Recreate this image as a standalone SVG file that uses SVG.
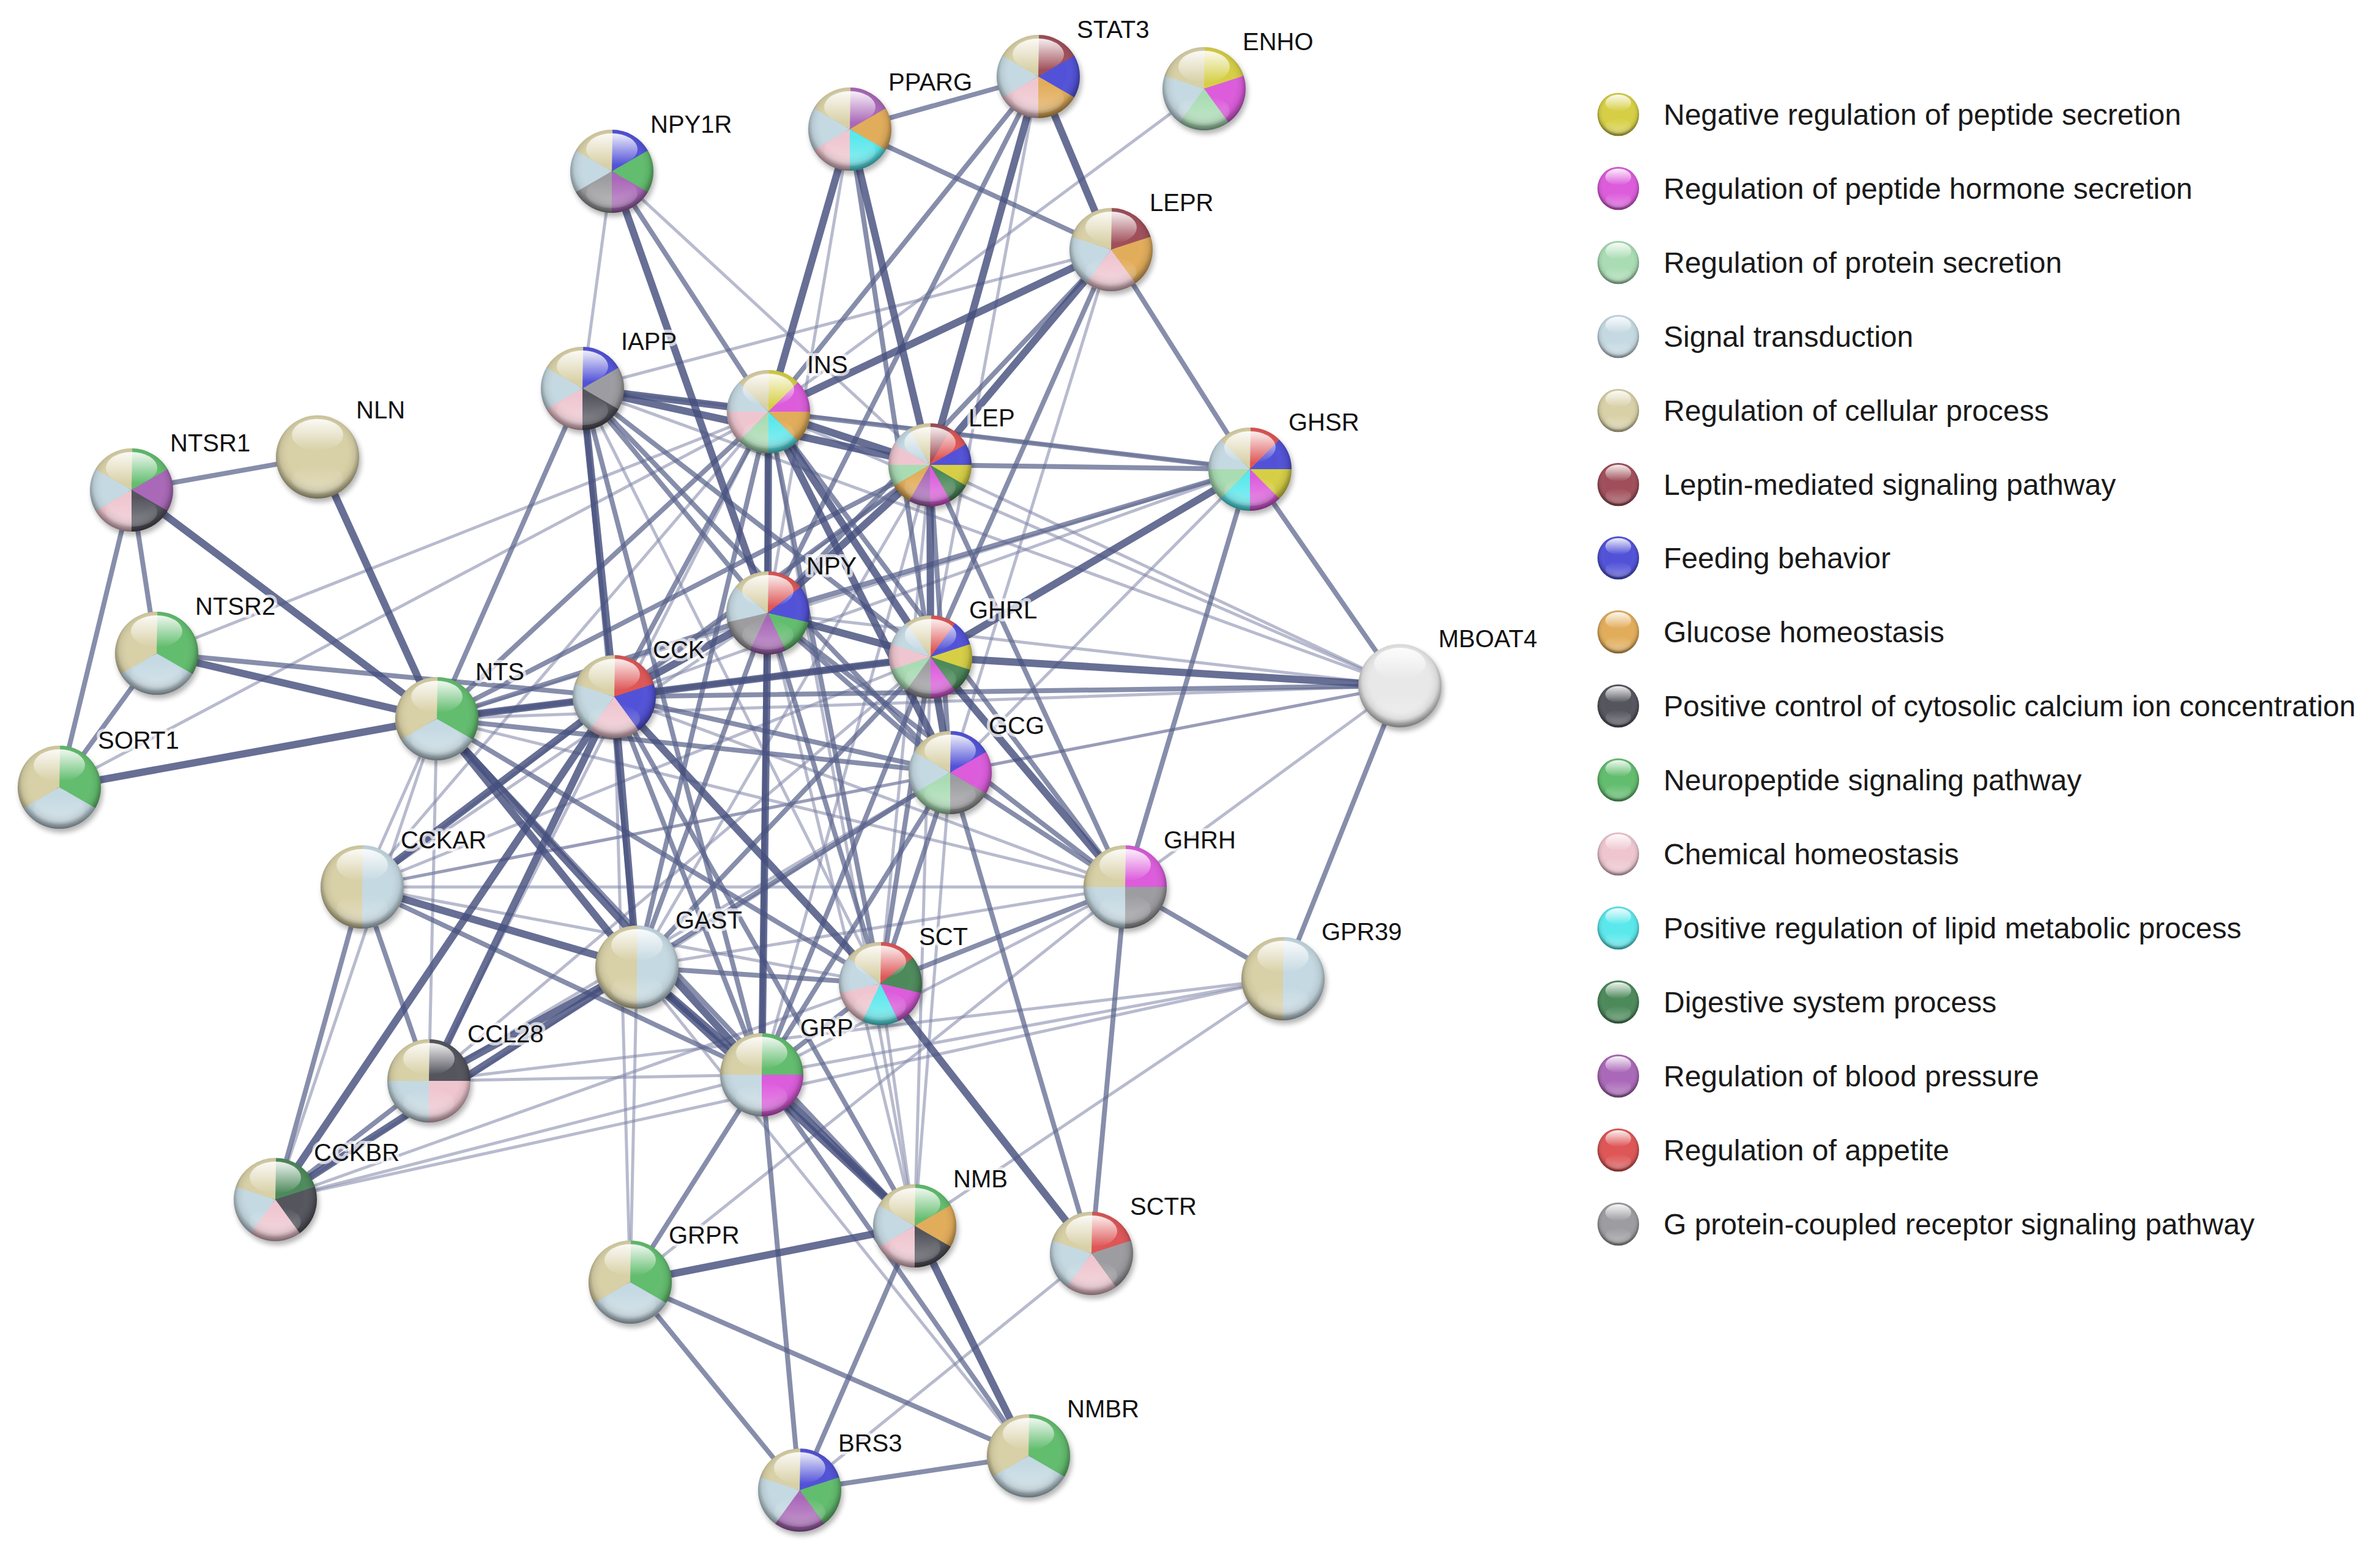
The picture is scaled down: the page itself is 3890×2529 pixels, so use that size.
<svg xmlns="http://www.w3.org/2000/svg" xmlns:xlink="http://www.w3.org/1999/xlink" width="3890" height="2529" viewBox="0 0 3890 2529">
<style>
.l{stroke:#7d84a6;stroke-opacity:.55;stroke-width:5}
.m{stroke:#59628b;stroke-opacity:.72;stroke-width:8}
.t{stroke:#454f7e;stroke-opacity:.82;stroke-width:12}
.s{fill:none;stroke-width:68}
.s2{stroke-dasharray:107.3 300}.s3{stroke-dasharray:71.7 300}.s4{stroke-dasharray:53.9 300}.s5{stroke-dasharray:43.2 300}.s6{stroke-dasharray:36.1 300}.s7{stroke-dasharray:31 300}.s8{stroke-dasharray:27.2 300}.s10{stroke-dasharray:21.9 300}.s12{stroke-dasharray:18.3 300}
.Y{stroke:#d6cf45}.M{stroke:#dc5cdc}.LG{stroke:#a9dcb3}.LB{stroke:#c5d9e2}.T{stroke:#d8d0a6}.DR{stroke:#a04f5a}.B{stroke:#5252d8}.O{stroke:#e2ad5a}.K{stroke:#55555e}.G{stroke:#62bd6e}.P{stroke:#efc6d0}.C{stroke:#5ae8ec}.DG{stroke:#4d8a5b}.PU{stroke:#aa68b8}.R{stroke:#de5656}.GR{stroke:#9d9da1}
.lbl{font-family:"Liberation Sans",Arial,sans-serif;font-size:40px;fill:#111;stroke:#fff;stroke-width:10;stroke-opacity:.7;stroke-linejoin:round;paint-order:stroke}
.leg{font-family:"Liberation Sans",Arial,sans-serif;font-size:48px;fill:#1a1a1a}
</style>
<defs>
<filter id="blur" x="-30%" y="-30%" width="160%" height="160%"><feGaussianBlur stdDeviation="4"/></filter>
<radialGradient id="gShade" cx="0.5" cy="0.45" r="0.55">
<stop offset="0.6" stop-color="#fff" stop-opacity="0"/>
<stop offset="0.82" stop-color="#000" stop-opacity="0.08"/>
<stop offset="1" stop-color="#000" stop-opacity="0.5"/>
</radialGradient>
<linearGradient id="gHl" x1="0" y1="0" x2="0" y2="1">
<stop offset="0" stop-color="#fff" stop-opacity="0.9"/>
<stop offset="1" stop-color="#fff" stop-opacity="0"/>
</linearGradient>
<linearGradient id="gLow" x1="0" y1="0" x2="0" y2="1">
<stop offset="0" stop-color="#fff" stop-opacity="0"/>
<stop offset="1" stop-color="#fff" stop-opacity="0.3"/>
</linearGradient>
<circle id="shadow" cx="3" cy="6" r="68" fill="#000" opacity="0.3" filter="url(#blur)"/>
<g id="gloss">
<ellipse cx="0" cy="36" rx="42" ry="24" fill="url(#gLow)"/>
<circle r="68" fill="url(#gShade)"/>
<ellipse cx="0" cy="-36" rx="42" ry="26" fill="url(#gHl)"/>
</g>
</defs>
<rect width="3890" height="2529" fill="#fff"/>
<g id="connectors" stroke-linecap="round">
<g id="edges-light">
<line class="l" x1="256" y1="1068" x2="1256" y2="673"/>
<line class="l" x1="97" y1="1287" x2="1256" y2="673"/>
<line class="l" x1="714" y1="1175" x2="592" y2="1450"/>
<line class="l" x1="714" y1="1175" x2="701" y2="1767"/>
<line class="l" x1="714" y1="1175" x2="450" y2="1961"/>
<line class="l" x1="714" y1="1175" x2="2288" y2="1121"/>
<line class="l" x1="714" y1="1175" x2="1839" y2="1450"/>
<line class="l" x1="714" y1="1175" x2="2043" y2="767"/>
<line class="l" x1="1000" y1="280" x2="952" y2="635"/>
<line class="l" x1="1000" y1="280" x2="1520" y2="760"/>
<line class="l" x1="1968" y1="145" x2="1256" y2="673"/>
<line class="l" x1="952" y1="635" x2="1816" y2="408"/>
<line class="l" x1="952" y1="635" x2="2043" y2="767"/>
<line class="l" x1="952" y1="635" x2="1439" y2="1608"/>
<line class="l" x1="952" y1="635" x2="2288" y2="1121"/>
<line class="l" x1="1256" y1="673" x2="2288" y2="1121"/>
<line class="l" x1="1256" y1="673" x2="592" y2="1450"/>
<line class="l" x1="1256" y1="673" x2="701" y2="1767"/>
<line class="l" x1="1256" y1="673" x2="1495" y2="2004"/>
<line class="l" x1="1520" y1="760" x2="2288" y2="1121"/>
<line class="l" x1="1520" y1="760" x2="1245" y2="1757"/>
<line class="l" x1="1520" y1="760" x2="1041" y2="1581"/>
<line class="l" x1="1520" y1="760" x2="1439" y2="1608"/>
<line class="l" x1="1520" y1="760" x2="592" y2="1450"/>
<line class="l" x1="1697" y1="125" x2="1521" y2="1074"/>
<line class="l" x1="1389" y1="211" x2="1255" y2="1002"/>
<line class="l" x1="1816" y1="408" x2="1553" y2="1263"/>
<line class="l" x1="2043" y1="767" x2="1004" y2="1139"/>
<line class="l" x1="2043" y1="767" x2="1553" y2="1263"/>
<line class="l" x1="1255" y1="1002" x2="2288" y2="1121"/>
<line class="l" x1="1255" y1="1002" x2="592" y2="1450"/>
<line class="l" x1="1255" y1="1002" x2="1495" y2="2004"/>
<line class="l" x1="1521" y1="1074" x2="1495" y2="2004"/>
<line class="l" x1="1521" y1="1074" x2="592" y2="1450"/>
<line class="l" x1="1521" y1="1074" x2="701" y2="1767"/>
<line class="l" x1="1553" y1="1263" x2="592" y2="1450"/>
<line class="l" x1="1553" y1="1263" x2="701" y2="1767"/>
<line class="l" x1="1553" y1="1263" x2="450" y2="1961"/>
<line class="l" x1="1553" y1="1263" x2="1495" y2="2004"/>
<line class="l" x1="1553" y1="1263" x2="2288" y2="1121"/>
<line class="l" x1="1004" y1="1139" x2="1839" y2="1450"/>
<line class="l" x1="1004" y1="1139" x2="1030" y2="2096"/>
<line class="l" x1="592" y1="1450" x2="1439" y2="1608"/>
<line class="l" x1="592" y1="1450" x2="1839" y2="1450"/>
<line class="l" x1="592" y1="1450" x2="2288" y2="1121"/>
<line class="l" x1="450" y1="1961" x2="1245" y2="1757"/>
<line class="l" x1="450" y1="1961" x2="1439" y2="1608"/>
<line class="l" x1="450" y1="1961" x2="2097" y2="1600"/>
<line class="l" x1="701" y1="1767" x2="1245" y2="1757"/>
<line class="l" x1="701" y1="1767" x2="2097" y2="1600"/>
<line class="l" x1="1041" y1="1581" x2="1030" y2="2096"/>
<line class="l" x1="1041" y1="1581" x2="1839" y2="1450"/>
<line class="l" x1="1041" y1="1581" x2="1681" y2="2380"/>
<line class="l" x1="1245" y1="1757" x2="2097" y2="1600"/>
<line class="l" x1="1245" y1="1757" x2="1839" y2="1450"/>
<line class="l" x1="1439" y1="1608" x2="1495" y2="2004"/>
<line class="l" x1="1839" y1="1450" x2="2288" y2="1121"/>
<line class="l" x1="1839" y1="1450" x2="1030" y2="2096"/>
<line class="l" x1="1495" y1="2004" x2="2097" y2="1600"/>
<line class="l" x1="1307" y1="2436" x2="1784" y2="2049"/>
</g>
<g id="edges-medium">
<line class="m" x1="215" y1="801" x2="519" y2="747"/>
<line class="m" x1="215" y1="801" x2="256" y2="1068"/>
<line class="m" x1="215" y1="801" x2="97" y2="1287"/>
<line class="m" x1="256" y1="1068" x2="97" y2="1287"/>
<line class="m" x1="256" y1="1068" x2="1004" y2="1139"/>
<line class="m" x1="714" y1="1175" x2="1256" y2="673"/>
<line class="m" x1="714" y1="1175" x2="952" y2="635"/>
<line class="m" x1="714" y1="1175" x2="1255" y2="1002"/>
<line class="m" x1="714" y1="1175" x2="1520" y2="760"/>
<line class="m" x1="714" y1="1175" x2="1521" y2="1074"/>
<line class="m" x1="714" y1="1175" x2="1553" y2="1263"/>
<line class="m" x1="714" y1="1175" x2="1495" y2="2004"/>
<line class="m" x1="714" y1="1175" x2="1439" y2="1608"/>
<line class="m" x1="952" y1="635" x2="1255" y2="1002"/>
<line class="m" x1="952" y1="635" x2="1521" y2="1074"/>
<line class="m" x1="952" y1="635" x2="1553" y2="1263"/>
<line class="m" x1="952" y1="635" x2="1041" y2="1581"/>
<line class="m" x1="952" y1="635" x2="1245" y2="1757"/>
<line class="m" x1="1256" y1="673" x2="1697" y2="125"/>
<line class="m" x1="1256" y1="673" x2="1000" y2="280"/>
<line class="m" x1="1256" y1="673" x2="1004" y2="1139"/>
<line class="m" x1="1256" y1="673" x2="2043" y2="767"/>
<line class="m" x1="1256" y1="673" x2="1041" y2="1581"/>
<line class="m" x1="1256" y1="673" x2="1245" y2="1757"/>
<line class="m" x1="1256" y1="673" x2="1439" y2="1608"/>
<line class="m" x1="1256" y1="673" x2="1839" y2="1450"/>
<line class="m" x1="1520" y1="760" x2="1553" y2="1263"/>
<line class="m" x1="1520" y1="760" x2="2043" y2="767"/>
<line class="m" x1="1520" y1="760" x2="1004" y2="1139"/>
<line class="m" x1="1520" y1="760" x2="1839" y2="1450"/>
<line class="m" x1="1697" y1="125" x2="1389" y2="211"/>
<line class="m" x1="1697" y1="125" x2="1255" y2="1002"/>
<line class="m" x1="1389" y1="211" x2="1816" y2="408"/>
<line class="m" x1="1389" y1="211" x2="1521" y2="1074"/>
<line class="m" x1="2043" y1="767" x2="1816" y2="408"/>
<line class="m" x1="2043" y1="767" x2="1255" y2="1002"/>
<line class="m" x1="2043" y1="767" x2="1839" y2="1450"/>
<line class="m" x1="2043" y1="767" x2="2288" y2="1121"/>
<line class="m" x1="1255" y1="1002" x2="1816" y2="408"/>
<line class="m" x1="1255" y1="1002" x2="1553" y2="1263"/>
<line class="m" x1="1255" y1="1002" x2="1041" y2="1581"/>
<line class="m" x1="1255" y1="1002" x2="1439" y2="1608"/>
<line class="m" x1="1255" y1="1002" x2="1839" y2="1450"/>
<line class="m" x1="1521" y1="1074" x2="1816" y2="408"/>
<line class="m" x1="1521" y1="1074" x2="1041" y2="1581"/>
<line class="m" x1="1521" y1="1074" x2="1245" y2="1757"/>
<line class="m" x1="1521" y1="1074" x2="1439" y2="1608"/>
<line class="m" x1="1553" y1="1263" x2="1004" y2="1139"/>
<line class="m" x1="1553" y1="1263" x2="1839" y2="1450"/>
<line class="m" x1="1553" y1="1263" x2="1439" y2="1608"/>
<line class="m" x1="1553" y1="1263" x2="1041" y2="1581"/>
<line class="m" x1="1553" y1="1263" x2="1245" y2="1757"/>
<line class="m" x1="1553" y1="1263" x2="1784" y2="2049"/>
<line class="m" x1="1004" y1="1139" x2="1245" y2="1757"/>
<line class="m" x1="1004" y1="1139" x2="1495" y2="2004"/>
<line class="m" x1="1004" y1="1139" x2="2288" y2="1121"/>
<line class="m" x1="592" y1="1450" x2="450" y2="1961"/>
<line class="m" x1="592" y1="1450" x2="701" y2="1767"/>
<line class="m" x1="592" y1="1450" x2="1245" y2="1757"/>
<line class="m" x1="450" y1="1961" x2="701" y2="1767"/>
<line class="m" x1="1041" y1="1581" x2="1439" y2="1608"/>
<line class="m" x1="1245" y1="1757" x2="1439" y2="1608"/>
<line class="m" x1="1245" y1="1757" x2="1681" y2="2380"/>
<line class="m" x1="1245" y1="1757" x2="1307" y2="2436"/>
<line class="m" x1="1245" y1="1757" x2="1030" y2="2096"/>
<line class="m" x1="1439" y1="1608" x2="1839" y2="1450"/>
<line class="m" x1="1839" y1="1450" x2="1784" y2="2049"/>
<line class="m" x1="1839" y1="1450" x2="2097" y2="1600"/>
<line class="m" x1="2288" y1="1121" x2="2097" y2="1600"/>
<line class="m" x1="1495" y1="2004" x2="1307" y2="2436"/>
<line class="m" x1="1030" y1="2096" x2="1307" y2="2436"/>
<line class="m" x1="1030" y1="2096" x2="1681" y2="2380"/>
<line class="m" x1="1307" y1="2436" x2="1681" y2="2380"/>
</g>
<g id="edges-strong">
<line class="t" x1="215" y1="801" x2="714" y2="1175"/>
<line class="t" x1="519" y1="747" x2="714" y2="1175"/>
<line class="t" x1="256" y1="1068" x2="714" y2="1175"/>
<line class="t" x1="97" y1="1287" x2="714" y2="1175"/>
<line class="t" x1="714" y1="1175" x2="1004" y2="1139"/>
<line class="t" x1="714" y1="1175" x2="1041" y2="1581"/>
<line class="t" x1="714" y1="1175" x2="1245" y2="1757"/>
<line class="t" x1="952" y1="635" x2="1256" y2="673"/>
<line class="t" x1="952" y1="635" x2="1520" y2="760"/>
<line class="t" x1="952" y1="635" x2="1004" y2="1139"/>
<line class="t" x1="1256" y1="673" x2="1520" y2="760"/>
<line class="t" x1="1256" y1="673" x2="1255" y2="1002"/>
<line class="t" x1="1256" y1="673" x2="1521" y2="1074"/>
<line class="t" x1="1256" y1="673" x2="1553" y2="1263"/>
<line class="t" x1="1256" y1="673" x2="1816" y2="408"/>
<line class="t" x1="1256" y1="673" x2="1389" y2="211"/>
<line class="t" x1="1520" y1="760" x2="1389" y2="211"/>
<line class="t" x1="1520" y1="760" x2="1697" y2="125"/>
<line class="t" x1="1520" y1="760" x2="1816" y2="408"/>
<line class="t" x1="1520" y1="760" x2="1255" y2="1002"/>
<line class="t" x1="1520" y1="760" x2="1521" y2="1074"/>
<line class="t" x1="1697" y1="125" x2="1816" y2="408"/>
<line class="t" x1="1000" y1="280" x2="1255" y2="1002"/>
<line class="t" x1="2043" y1="767" x2="1521" y2="1074"/>
<line class="t" x1="1255" y1="1002" x2="1521" y2="1074"/>
<line class="t" x1="1255" y1="1002" x2="1004" y2="1139"/>
<line class="t" x1="1255" y1="1002" x2="1245" y2="1757"/>
<line class="t" x1="1521" y1="1074" x2="1553" y2="1263"/>
<line class="t" x1="1521" y1="1074" x2="1004" y2="1139"/>
<line class="t" x1="1521" y1="1074" x2="2288" y2="1121"/>
<line class="t" x1="1521" y1="1074" x2="1839" y2="1450"/>
<line class="t" x1="1004" y1="1139" x2="592" y2="1450"/>
<line class="t" x1="1004" y1="1139" x2="450" y2="1961"/>
<line class="t" x1="1004" y1="1139" x2="701" y2="1767"/>
<line class="t" x1="1004" y1="1139" x2="1041" y2="1581"/>
<line class="t" x1="1004" y1="1139" x2="1439" y2="1608"/>
<line class="t" x1="592" y1="1450" x2="1041" y2="1581"/>
<line class="t" x1="450" y1="1961" x2="1041" y2="1581"/>
<line class="t" x1="701" y1="1767" x2="1041" y2="1581"/>
<line class="t" x1="1041" y1="1581" x2="1245" y2="1757"/>
<line class="t" x1="1041" y1="1581" x2="1495" y2="2004"/>
<line class="t" x1="1245" y1="1757" x2="1495" y2="2004"/>
<line class="t" x1="1439" y1="1608" x2="1784" y2="2049"/>
<line class="t" x1="1495" y1="2004" x2="1681" y2="2380"/>
<line class="t" x1="1495" y1="2004" x2="1030" y2="2096"/>
</g>
</g>
<g id="nodes">
<g id="node-STAT3" transform="translate(1697,125)"><use href="#shadow"/>
<circle class="s s6 DR" r="34" transform="rotate(-90)"/><circle class="s s6 B" r="34" transform="rotate(-30)"/><circle class="s s6 O" r="34" transform="rotate(30)"/><circle class="s s6 P" r="34" transform="rotate(90)"/><circle class="s s6 LB" r="34" transform="rotate(150)"/><circle class="s s6 T" r="34" transform="rotate(210)"/>
<use href="#gloss"/><text class="lbl" x="63" y="-63">STAT3</text></g>
<g id="node-ENHO" transform="translate(1968,145)"><use href="#shadow"/>
<circle class="s s5 Y" r="34" transform="rotate(-90)"/><circle class="s s5 M" r="34" transform="rotate(-18)"/><circle class="s s5 LG" r="34" transform="rotate(54)"/><circle class="s s5 LB" r="34" transform="rotate(126)"/><circle class="s s5 T" r="34" transform="rotate(198)"/>
<use href="#gloss"/><text class="lbl" x="63" y="-63">ENHO</text></g>
<g id="node-PPARG" transform="translate(1389,211)"><use href="#shadow"/>
<circle class="s s6 PU" r="34" transform="rotate(-90)"/><circle class="s s6 O" r="34" transform="rotate(-30)"/><circle class="s s6 C" r="34" transform="rotate(30)"/><circle class="s s6 P" r="34" transform="rotate(90)"/><circle class="s s6 LB" r="34" transform="rotate(150)"/><circle class="s s6 T" r="34" transform="rotate(210)"/>
<use href="#gloss"/><text class="lbl" x="63" y="-63">PPARG</text></g>
<g id="node-NPY1R" transform="translate(1000,280)"><use href="#shadow"/>
<circle class="s s6 B" r="34" transform="rotate(-90)"/><circle class="s s6 G" r="34" transform="rotate(-30)"/><circle class="s s6 PU" r="34" transform="rotate(30)"/><circle class="s s6 GR" r="34" transform="rotate(90)"/><circle class="s s6 LB" r="34" transform="rotate(150)"/><circle class="s s6 T" r="34" transform="rotate(210)"/>
<use href="#gloss"/><text class="lbl" x="63" y="-63">NPY1R</text></g>
<g id="node-LEPR" transform="translate(1816,408)"><use href="#shadow"/>
<circle class="s s5 DR" r="34" transform="rotate(-90)"/><circle class="s s5 O" r="34" transform="rotate(-18)"/><circle class="s s5 P" r="34" transform="rotate(54)"/><circle class="s s5 LB" r="34" transform="rotate(126)"/><circle class="s s5 T" r="34" transform="rotate(198)"/>
<use href="#gloss"/><text class="lbl" x="63" y="-63">LEPR</text></g>
<g id="node-IAPP" transform="translate(952,635)"><use href="#shadow"/>
<circle class="s s6 B" r="34" transform="rotate(-90)"/><circle class="s s6 GR" r="34" transform="rotate(-30)"/><circle class="s s6 K" r="34" transform="rotate(30)"/><circle class="s s6 P" r="34" transform="rotate(90)"/><circle class="s s6 LB" r="34" transform="rotate(150)"/><circle class="s s6 T" r="34" transform="rotate(210)"/>
<use href="#gloss"/><text class="lbl" x="63" y="-63">IAPP</text></g>
<g id="node-INS" transform="translate(1256,673)"><use href="#shadow"/>
<circle class="s s8 Y" r="34" transform="rotate(-90)"/><circle class="s s8 M" r="34" transform="rotate(-45)"/><circle class="s s8 O" r="34" transform="rotate(0)"/><circle class="s s8 C" r="34" transform="rotate(45)"/><circle class="s s8 LG" r="34" transform="rotate(90)"/><circle class="s s8 P" r="34" transform="rotate(135)"/><circle class="s s8 LB" r="34" transform="rotate(180)"/><circle class="s s8 T" r="34" transform="rotate(225)"/>
<use href="#gloss"/><text class="lbl" x="63" y="-63">INS</text></g>
<g id="node-NLN" transform="translate(519,747)"><use href="#shadow"/>
<circle r="68" fill="#d8d0a6"/>
<use href="#gloss"/><text class="lbl" x="63" y="-63">NLN</text></g>
<g id="node-NTSR1" transform="translate(215,801)"><use href="#shadow"/>
<circle class="s s6 G" r="34" transform="rotate(-90)"/><circle class="s s6 PU" r="34" transform="rotate(-30)"/><circle class="s s6 K" r="34" transform="rotate(30)"/><circle class="s s6 P" r="34" transform="rotate(90)"/><circle class="s s6 LB" r="34" transform="rotate(150)"/><circle class="s s6 T" r="34" transform="rotate(210)"/>
<use href="#gloss"/><text class="lbl" x="63" y="-63">NTSR1</text></g>
<g id="node-LEP" transform="translate(1520,760)"><use href="#shadow"/>
<circle class="s s12 DR" r="34" transform="rotate(-90)"/><circle class="s s12 R" r="34" transform="rotate(-60)"/><circle class="s s12 B" r="34" transform="rotate(-30)"/><circle class="s s12 Y" r="34" transform="rotate(0)"/><circle class="s s12 DG" r="34" transform="rotate(30)"/><circle class="s s12 M" r="34" transform="rotate(60)"/><circle class="s s12 PU" r="34" transform="rotate(90)"/><circle class="s s12 O" r="34" transform="rotate(120)"/><circle class="s s12 LG" r="34" transform="rotate(150)"/><circle class="s s12 P" r="34" transform="rotate(180)"/><circle class="s s12 LB" r="34" transform="rotate(210)"/><circle class="s s12 T" r="34" transform="rotate(240)"/>
<use href="#gloss"/><text class="lbl" x="63" y="-63">LEP</text></g>
<g id="node-GHSR" transform="translate(2043,767)"><use href="#shadow"/>
<circle class="s s8 R" r="34" transform="rotate(-90)"/><circle class="s s8 B" r="34" transform="rotate(-45)"/><circle class="s s8 Y" r="34" transform="rotate(0)"/><circle class="s s8 M" r="34" transform="rotate(45)"/><circle class="s s8 C" r="34" transform="rotate(90)"/><circle class="s s8 LG" r="34" transform="rotate(135)"/><circle class="s s8 LB" r="34" transform="rotate(180)"/><circle class="s s8 T" r="34" transform="rotate(225)"/>
<use href="#gloss"/><text class="lbl" x="63" y="-63">GHSR</text></g>
<g id="node-NPY" transform="translate(1255,1002)"><use href="#shadow"/>
<circle class="s s7 R" r="34" transform="rotate(-90)"/><circle class="s s7 B" r="34" transform="rotate(-38.57)"/><circle class="s s7 G" r="34" transform="rotate(12.86)"/><circle class="s s7 PU" r="34" transform="rotate(64.29)"/><circle class="s s7 GR" r="34" transform="rotate(115.71)"/><circle class="s s7 LB" r="34" transform="rotate(167.14)"/><circle class="s s7 T" r="34" transform="rotate(218.57)"/>
<use href="#gloss"/><text class="lbl" x="63" y="-63">NPY</text></g>
<g id="node-GHRL" transform="translate(1521,1074)"><use href="#shadow"/>
<circle class="s s10 R" r="34" transform="rotate(-90)"/><circle class="s s10 B" r="34" transform="rotate(-54)"/><circle class="s s10 Y" r="34" transform="rotate(-18)"/><circle class="s s10 DG" r="34" transform="rotate(18)"/><circle class="s s10 M" r="34" transform="rotate(54)"/><circle class="s s10 GR" r="34" transform="rotate(90)"/><circle class="s s10 LG" r="34" transform="rotate(126)"/><circle class="s s10 P" r="34" transform="rotate(162)"/><circle class="s s10 LB" r="34" transform="rotate(198)"/><circle class="s s10 T" r="34" transform="rotate(234)"/>
<use href="#gloss"/><text class="lbl" x="63" y="-63">GHRL</text></g>
<g id="node-NTSR2" transform="translate(256,1068)"><use href="#shadow"/>
<circle class="s s3 G" r="34" transform="rotate(-90)"/><circle class="s s3 LB" r="34" transform="rotate(30)"/><circle class="s s3 T" r="34" transform="rotate(150)"/>
<use href="#gloss"/><text class="lbl" x="63" y="-63">NTSR2</text></g>
<g id="node-CCK" transform="translate(1004,1139)"><use href="#shadow"/>
<circle class="s s5 R" r="34" transform="rotate(-90)"/><circle class="s s5 B" r="34" transform="rotate(-18)"/><circle class="s s5 P" r="34" transform="rotate(54)"/><circle class="s s5 LB" r="34" transform="rotate(126)"/><circle class="s s5 T" r="34" transform="rotate(198)"/>
<use href="#gloss"/><text class="lbl" x="63" y="-63">CCK</text></g>
<g id="node-NTS" transform="translate(714,1175)"><use href="#shadow"/>
<circle class="s s3 G" r="34" transform="rotate(-90)"/><circle class="s s3 LB" r="34" transform="rotate(30)"/><circle class="s s3 T" r="34" transform="rotate(150)"/>
<use href="#gloss"/><text class="lbl" x="63" y="-63">NTS</text></g>
<g id="node-MBOAT4" transform="translate(2288,1121)"><use href="#shadow"/>
<circle r="68" fill="#e8e8e8"/>
<use href="#gloss"/><text class="lbl" x="63" y="-63">MBOAT4</text></g>
<g id="node-SORT1" transform="translate(97,1287)"><use href="#shadow"/>
<circle class="s s3 G" r="34" transform="rotate(-90)"/><circle class="s s3 LB" r="34" transform="rotate(30)"/><circle class="s s3 T" r="34" transform="rotate(150)"/>
<use href="#gloss"/><text class="lbl" x="63" y="-63">SORT1</text></g>
<g id="node-GCG" transform="translate(1553,1263)"><use href="#shadow"/>
<circle class="s s6 B" r="34" transform="rotate(-90)"/><circle class="s s6 M" r="34" transform="rotate(-30)"/><circle class="s s6 GR" r="34" transform="rotate(30)"/><circle class="s s6 LG" r="34" transform="rotate(90)"/><circle class="s s6 LB" r="34" transform="rotate(150)"/><circle class="s s6 T" r="34" transform="rotate(210)"/>
<use href="#gloss"/><text class="lbl" x="63" y="-63">GCG</text></g>
<g id="node-CCKAR" transform="translate(592,1450)"><use href="#shadow"/>
<circle class="s s2 LB" r="34" transform="rotate(-90)"/><circle class="s s2 T" r="34" transform="rotate(90)"/>
<use href="#gloss"/><text class="lbl" x="63" y="-63">CCKAR</text></g>
<g id="node-GHRH" transform="translate(1839,1450)"><use href="#shadow"/>
<circle class="s s4 M" r="34" transform="rotate(-90)"/><circle class="s s4 GR" r="34" transform="rotate(0)"/><circle class="s s4 LB" r="34" transform="rotate(90)"/><circle class="s s4 T" r="34" transform="rotate(180)"/>
<use href="#gloss"/><text class="lbl" x="63" y="-63">GHRH</text></g>
<g id="node-GAST" transform="translate(1041,1581)"><use href="#shadow"/>
<circle class="s s2 LB" r="34" transform="rotate(-90)"/><circle class="s s2 T" r="34" transform="rotate(90)"/>
<use href="#gloss"/><text class="lbl" x="63" y="-63">GAST</text></g>
<g id="node-SCT" transform="translate(1439,1608)"><use href="#shadow"/>
<circle class="s s7 R" r="34" transform="rotate(-90)"/><circle class="s s7 DG" r="34" transform="rotate(-38.57)"/><circle class="s s7 M" r="34" transform="rotate(12.86)"/><circle class="s s7 C" r="34" transform="rotate(64.29)"/><circle class="s s7 P" r="34" transform="rotate(115.71)"/><circle class="s s7 LB" r="34" transform="rotate(167.14)"/><circle class="s s7 T" r="34" transform="rotate(218.57)"/>
<use href="#gloss"/><text class="lbl" x="63" y="-63">SCT</text></g>
<g id="node-GPR39" transform="translate(2097,1600)"><use href="#shadow"/>
<circle class="s s2 LB" r="34" transform="rotate(-90)"/><circle class="s s2 T" r="34" transform="rotate(90)"/>
<use href="#gloss"/><text class="lbl" x="63" y="-63">GPR39</text></g>
<g id="node-CCL28" transform="translate(701,1767)"><use href="#shadow"/>
<circle class="s s4 K" r="34" transform="rotate(-90)"/><circle class="s s4 P" r="34" transform="rotate(0)"/><circle class="s s4 LB" r="34" transform="rotate(90)"/><circle class="s s4 T" r="34" transform="rotate(180)"/>
<use href="#gloss"/><text class="lbl" x="63" y="-63">CCL28</text></g>
<g id="node-GRP" transform="translate(1245,1757)"><use href="#shadow"/>
<circle class="s s4 G" r="34" transform="rotate(-90)"/><circle class="s s4 M" r="34" transform="rotate(0)"/><circle class="s s4 LB" r="34" transform="rotate(90)"/><circle class="s s4 T" r="34" transform="rotate(180)"/>
<use href="#gloss"/><text class="lbl" x="63" y="-63">GRP</text></g>
<g id="node-CCKBR" transform="translate(450,1961)"><use href="#shadow"/>
<circle class="s s5 DG" r="34" transform="rotate(-90)"/><circle class="s s5 K" r="34" transform="rotate(-18)"/><circle class="s s5 P" r="34" transform="rotate(54)"/><circle class="s s5 LB" r="34" transform="rotate(126)"/><circle class="s s5 T" r="34" transform="rotate(198)"/>
<use href="#gloss"/><text class="lbl" x="63" y="-63">CCKBR</text></g>
<g id="node-NMB" transform="translate(1495,2004)"><use href="#shadow"/>
<circle class="s s6 G" r="34" transform="rotate(-90)"/><circle class="s s6 O" r="34" transform="rotate(-30)"/><circle class="s s6 K" r="34" transform="rotate(30)"/><circle class="s s6 P" r="34" transform="rotate(90)"/><circle class="s s6 LB" r="34" transform="rotate(150)"/><circle class="s s6 T" r="34" transform="rotate(210)"/>
<use href="#gloss"/><text class="lbl" x="63" y="-63">NMB</text></g>
<g id="node-SCTR" transform="translate(1784,2049)"><use href="#shadow"/>
<circle class="s s5 R" r="34" transform="rotate(-90)"/><circle class="s s5 GR" r="34" transform="rotate(-18)"/><circle class="s s5 P" r="34" transform="rotate(54)"/><circle class="s s5 LB" r="34" transform="rotate(126)"/><circle class="s s5 T" r="34" transform="rotate(198)"/>
<use href="#gloss"/><text class="lbl" x="63" y="-63">SCTR</text></g>
<g id="node-GRPR" transform="translate(1030,2096)"><use href="#shadow"/>
<circle class="s s3 G" r="34" transform="rotate(-90)"/><circle class="s s3 LB" r="34" transform="rotate(30)"/><circle class="s s3 T" r="34" transform="rotate(150)"/>
<use href="#gloss"/><text class="lbl" x="63" y="-63">GRPR</text></g>
<g id="node-NMBR" transform="translate(1681,2380)"><use href="#shadow"/>
<circle class="s s3 G" r="34" transform="rotate(-90)"/><circle class="s s3 LB" r="34" transform="rotate(30)"/><circle class="s s3 T" r="34" transform="rotate(150)"/>
<use href="#gloss"/><text class="lbl" x="63" y="-63">NMBR</text></g>
<g id="node-BRS3" transform="translate(1307,2436)"><use href="#shadow"/>
<circle class="s s5 B" r="34" transform="rotate(-90)"/><circle class="s s5 G" r="34" transform="rotate(-18)"/><circle class="s s5 PU" r="34" transform="rotate(54)"/><circle class="s s5 LB" r="34" transform="rotate(126)"/><circle class="s s5 T" r="34" transform="rotate(198)"/>
<use href="#gloss"/><text class="lbl" x="63" y="-63">BRS3</text></g>
</g>
<g id="legend">
<g transform="translate(2645,187) scale(0.5,0.52)"><circle r="68" fill="#d6cf45"/><use href="#gloss"/></g><text class="leg" x="2719" y="204">Negative regulation of peptide secretion</text>
<g transform="translate(2645,308) scale(0.5,0.52)"><circle r="68" fill="#dc5cdc"/><use href="#gloss"/></g><text class="leg" x="2719" y="325">Regulation of peptide hormone secretion</text>
<g transform="translate(2645,429) scale(0.5,0.52)"><circle r="68" fill="#a9dcb3"/><use href="#gloss"/></g><text class="leg" x="2719" y="446">Regulation of protein secretion</text>
<g transform="translate(2645,550) scale(0.5,0.52)"><circle r="68" fill="#c5d9e2"/><use href="#gloss"/></g><text class="leg" x="2719" y="567">Signal transduction</text>
<g transform="translate(2645,671) scale(0.5,0.52)"><circle r="68" fill="#d8d0a6"/><use href="#gloss"/></g><text class="leg" x="2719" y="688">Regulation of cellular process</text>
<g transform="translate(2645,792) scale(0.5,0.52)"><circle r="68" fill="#a04f5a"/><use href="#gloss"/></g><text class="leg" x="2719" y="809">Leptin-mediated signaling pathway</text>
<g transform="translate(2645,912) scale(0.5,0.52)"><circle r="68" fill="#5252d8"/><use href="#gloss"/></g><text class="leg" x="2719" y="929">Feeding behavior</text>
<g transform="translate(2645,1033) scale(0.5,0.52)"><circle r="68" fill="#e2ad5a"/><use href="#gloss"/></g><text class="leg" x="2719" y="1050">Glucose homeostasis</text>
<g transform="translate(2645,1154) scale(0.5,0.52)"><circle r="68" fill="#55555e"/><use href="#gloss"/></g><text class="leg" x="2719" y="1171">Positive control of cytosolic calcium ion concentration</text>
<g transform="translate(2645,1275) scale(0.5,0.52)"><circle r="68" fill="#62bd6e"/><use href="#gloss"/></g><text class="leg" x="2719" y="1292">Neuropeptide signaling pathway</text>
<g transform="translate(2645,1396) scale(0.5,0.52)"><circle r="68" fill="#efc6d0"/><use href="#gloss"/></g><text class="leg" x="2719" y="1413">Chemical homeostasis</text>
<g transform="translate(2645,1517) scale(0.5,0.52)"><circle r="68" fill="#5ae8ec"/><use href="#gloss"/></g><text class="leg" x="2719" y="1534">Positive regulation of lipid metabolic process</text>
<g transform="translate(2645,1638) scale(0.5,0.52)"><circle r="68" fill="#4d8a5b"/><use href="#gloss"/></g><text class="leg" x="2719" y="1655">Digestive system process</text>
<g transform="translate(2645,1759) scale(0.5,0.52)"><circle r="68" fill="#aa68b8"/><use href="#gloss"/></g><text class="leg" x="2719" y="1776">Regulation of blood pressure</text>
<g transform="translate(2645,1880) scale(0.5,0.52)"><circle r="68" fill="#de5656"/><use href="#gloss"/></g><text class="leg" x="2719" y="1897">Regulation of appetite</text>
<g transform="translate(2645,2001) scale(0.5,0.52)"><circle r="68" fill="#9d9da1"/><use href="#gloss"/></g><text class="leg" x="2719" y="2018">G protein-coupled receptor signaling pathway</text>
</g>
</svg>
